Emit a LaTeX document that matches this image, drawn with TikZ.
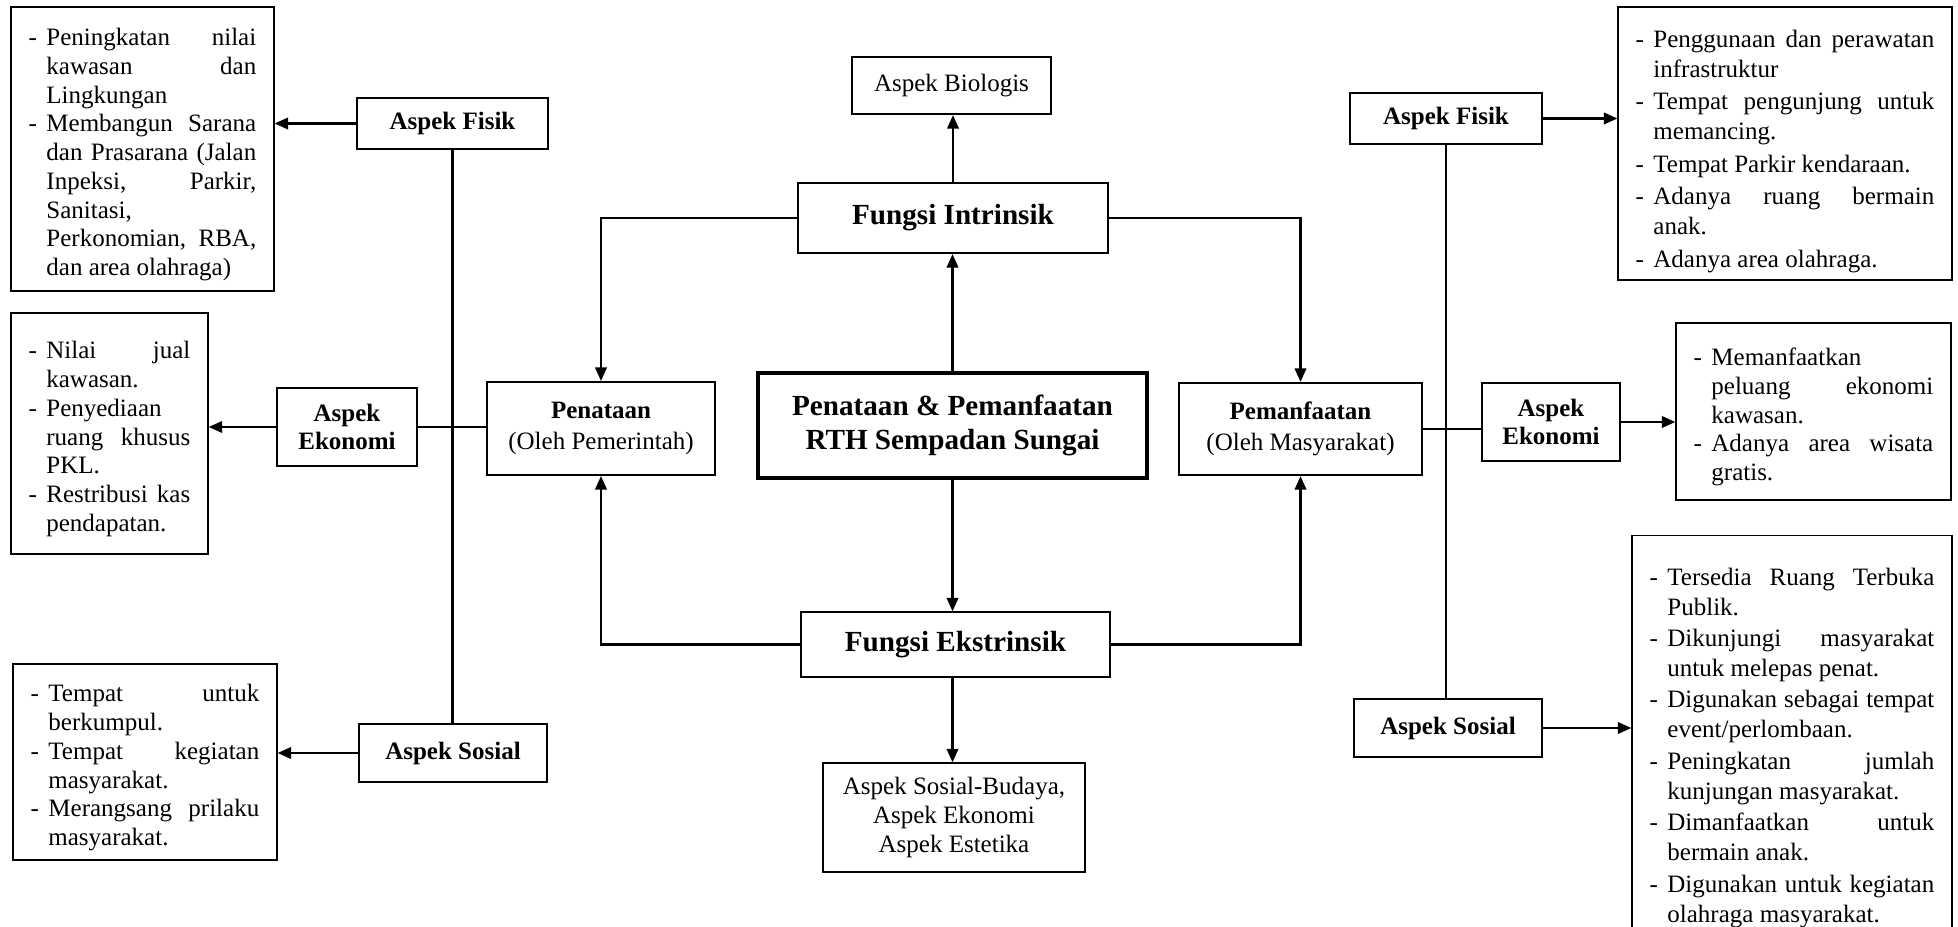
\documentclass[tikz,border=0pt]{standalone}
\usepackage{fontspec}
\setmainfont{Liberation Serif}
\usetikzlibrary{arrows.meta}

\newlength\gantung
\setlength\gantung{8.5pt}
\newcommand\butir[1]{\par\hangindent=\gantung\hangafter=1\noindent\makebox[\gantung][l]{-}#1\par}

\begin{document}
\begin{tikzpicture}[x=0.48pt, y=-0.48pt,
  kotak/.style={draw, line width=0.6pt, align=center, inner sep=0pt, font=\fontsize{12}{14}\selectfont},
  tebal/.style={kotak, line width=1pt},
  judul/.style={font=\fontsize{12}{13.8}\selectfont\bfseries},
  daftar/.style={draw, line width=0.6pt, align=justify, inner xsep=8.5pt, inner ysep=0pt},
  rapat/.style={font={\fontsize{12}{13.8}\selectfont\tolerance=10000\hbadness=10000\hyphenpenalty=10000}},
  panah/.style={line width=1.1pt, -{Triangle[length=6.5pt, width=5.5pt]}},
  garis/.style={line width=1.1pt}]
\useasboundingbox (0,0) rectangle (1958,927);

% Tengah
\node[kotak, line width=1.5pt, minimum width=186.7pt, minimum height=50.4pt,
  font=\fontsize{14}{16.5}\selectfont\bfseries] (pusat) at (952.5,425.5)
  {Penataan \& Pemanfaatan\\RTH Sempadan Sungai};
\node[tebal, minimum width=148.8pt, minimum height=33.6pt,
  font=\fontsize{14}{16}\selectfont\bfseries] (intr) at (953,218) {Fungsi Intrinsik};
\node[tebal, minimum width=95.5pt, minimum height=27.4pt] (bio) at (951.5,85.5) {Aspek Biologis};
\node[kotak, minimum width=148.3pt, minimum height=31.2pt,
  font=\fontsize{14}{16}\selectfont\bfseries] (ekst) at (955.5,644.5) {Fungsi Ekstrinsik};
\node[kotak, minimum width=125.8pt, minimum height=52.3pt] (aspek) at (954,817.5)
  {Aspek Sosial-Budaya,\\Aspek Ekonomi\\Aspek Estetika};
\node[tebal, minimum width=109.4pt, minimum height=44.6pt, font=\fontsize{12}{15}\selectfont]
  (penataan) at (601,428.5) {\textbf{Penataan}\\(Oleh Pemerintah)};
\node[tebal, minimum width=116.6pt, minimum height=44.2pt, font=\fontsize{12}{15}\selectfont]
  (pemanf) at (1300.5,429) {\textbf{Pemanfaatan}\\(Oleh Masyarakat)};

% Kiri
\node[tebal, judul, minimum width=91.7pt, minimum height=24.5pt] (fisikL) at (452.5,123.5) {Aspek Fisik};
\node[kotak, judul, minimum width=67.2pt, minimum height=37.4pt] (ekonomiL) at (347,427) {Aspek\\Ekonomi};
\node[kotak, judul, minimum width=90.2pt, minimum height=27.8pt] (sosialL) at (453,753) {Aspek Sosial};

\node[daftar, rapat, text width=109.2pt, minimum height=136.3pt] (isiFisikL) at (142.5,149) {%
  \butir{Peningkatan nilai\linebreak kawasan dan\linebreak Lingkungan}
  \butir{Membangun Sarana\linebreak dan Prasarana (Jalan\linebreak Inpeksi, Parkir,\linebreak
    Sanitasi,\linebreak Perkonomian, RBA,\linebreak dan area olahraga)}};
\node[daftar, rapat, text width=77.6pt, minimum height=115.7pt] (isiEkonomiL) at (109.5,433.5) {%
  \butir{Nilai jual\linebreak kawasan.}
  \butir{Penyediaan\linebreak ruang khusus\linebreak PKL.}
  \butir{Restribusi kas\linebreak pendapatan.}};
\node[daftar, rapat, text width=109.7pt, minimum height=94.1pt] (isiSosialL) at (145,762) {%
  \butir{Tempat untuk\linebreak berkumpul.}
  \butir{Tempat kegiatan\linebreak masyarakat.}
  \butir{Merangsang prilaku\linebreak masyarakat.}};

% Kanan
\node[tebal, judul, minimum width=92.2pt, minimum height=24.5pt] (fisikR) at (1446,118.5) {Aspek Fisik};
\node[kotak, judul, minimum width=66.2pt, minimum height=37.4pt] (ekonomiR) at (1551,422) {Aspek\\Ekonomi};
\node[kotak, judul, minimum width=90.2pt, minimum height=27.8pt] (sosialR) at (1448,728) {Aspek Sosial};

\node[daftar, rapat, text width=143.3pt, minimum height=131pt,
  font={\fontsize{12}{14.4}\selectfont\setlength\parskip{1.2pt}\tolerance=10000\hbadness=10000\hyphenpenalty=10000}]
  (isiFisikR) at (1785,143.5) {%
  \butir{Penggunaan dan perawatan\linebreak infrastruktur}
  \butir{Tempat pengunjung untuk\linebreak memancing.}
  \butir{Tempat Parkir kendaraan.}
  \butir{Adanya ruang bermain\linebreak anak.}
  \butir{Adanya area olahraga.}};
\node[daftar, rapat, text width=115pt, minimum height=85pt] (isiEkonomiR) at (1813.5,411.5) {%
  \butir{Memanfaatkan\linebreak peluang ekonomi\linebreak kawasan.}
  \butir{Adanya area wisata\linebreak gratis.}};
\node[daftar, rapat, text width=136.6pt, minimum height=196.8pt, anchor=north,
  font={\fontsize{12}{14.4}\selectfont\setlength\parskip{0.7pt}\tolerance=10000\hbadness=10000\hyphenpenalty=10000}]
  (isiSosialR) at (1792,535) {%
  \butir{Tersedia Ruang Terbuka\linebreak Publik.}
  \butir{Dikunjungi masyarakat\linebreak untuk melepas penat.}
  \butir{Digunakan sebagai tempat\linebreak event/perlombaan.}
  \butir{Peningkatan jumlah\linebreak kunjungan masyarakat.}
  \butir{Dimanfaatkan untuk\linebreak bermain anak.}
  \butir{Digunakan untuk kegiatan\linebreak olahraga masyarakat.}};

% Panah tengah
\draw[panah] (pusat.north) -- (pusat.north |- intr.south);
\draw[panah] (intr.north) -- (intr.north |- bio.south);
\draw[panah] (intr.west) -| (penataan.north);
\draw[panah] (intr.east) -| (pemanf.north);
\draw[panah] (pusat.south) -- (pusat.south |- ekst.north);
\draw[panah] (ekst.west) -| (penataan.south);
\draw[panah] (ekst.east) -| (pemanf.south);
\draw[panah] (pusat.south |- ekst.south) -- (pusat.south |- aspek.north);

% Cabang kiri
\draw[garis] (fisikL.south) -- (fisikL.south |- sosialL.north);
\draw[garis] (ekonomiL.east) -- (ekonomiL.east -| penataan.west);
\draw[panah] (fisikL.west) -- (fisikL.west -| isiFisikL.east);
\draw[panah] (ekonomiL.west) -- (ekonomiL.west -| isiEkonomiL.east);
\draw[panah] (sosialL.west) -- (sosialL.west -| isiSosialL.east);

% Cabang kanan
\draw[garis] (fisikR.south) -- (fisikR.south |- sosialR.north);
\draw[garis] (pemanf.east) -- (pemanf.east -| ekonomiR.west);
\draw[panah] (fisikR.east) -- (fisikR.east -| isiFisikR.west);
\draw[panah] (ekonomiR.east) -- (ekonomiR.east -| isiEkonomiR.west);
\draw[panah] (sosialR.east) -- (sosialR.east -| isiSosialR.west);
\end{tikzpicture}
\end{document}
